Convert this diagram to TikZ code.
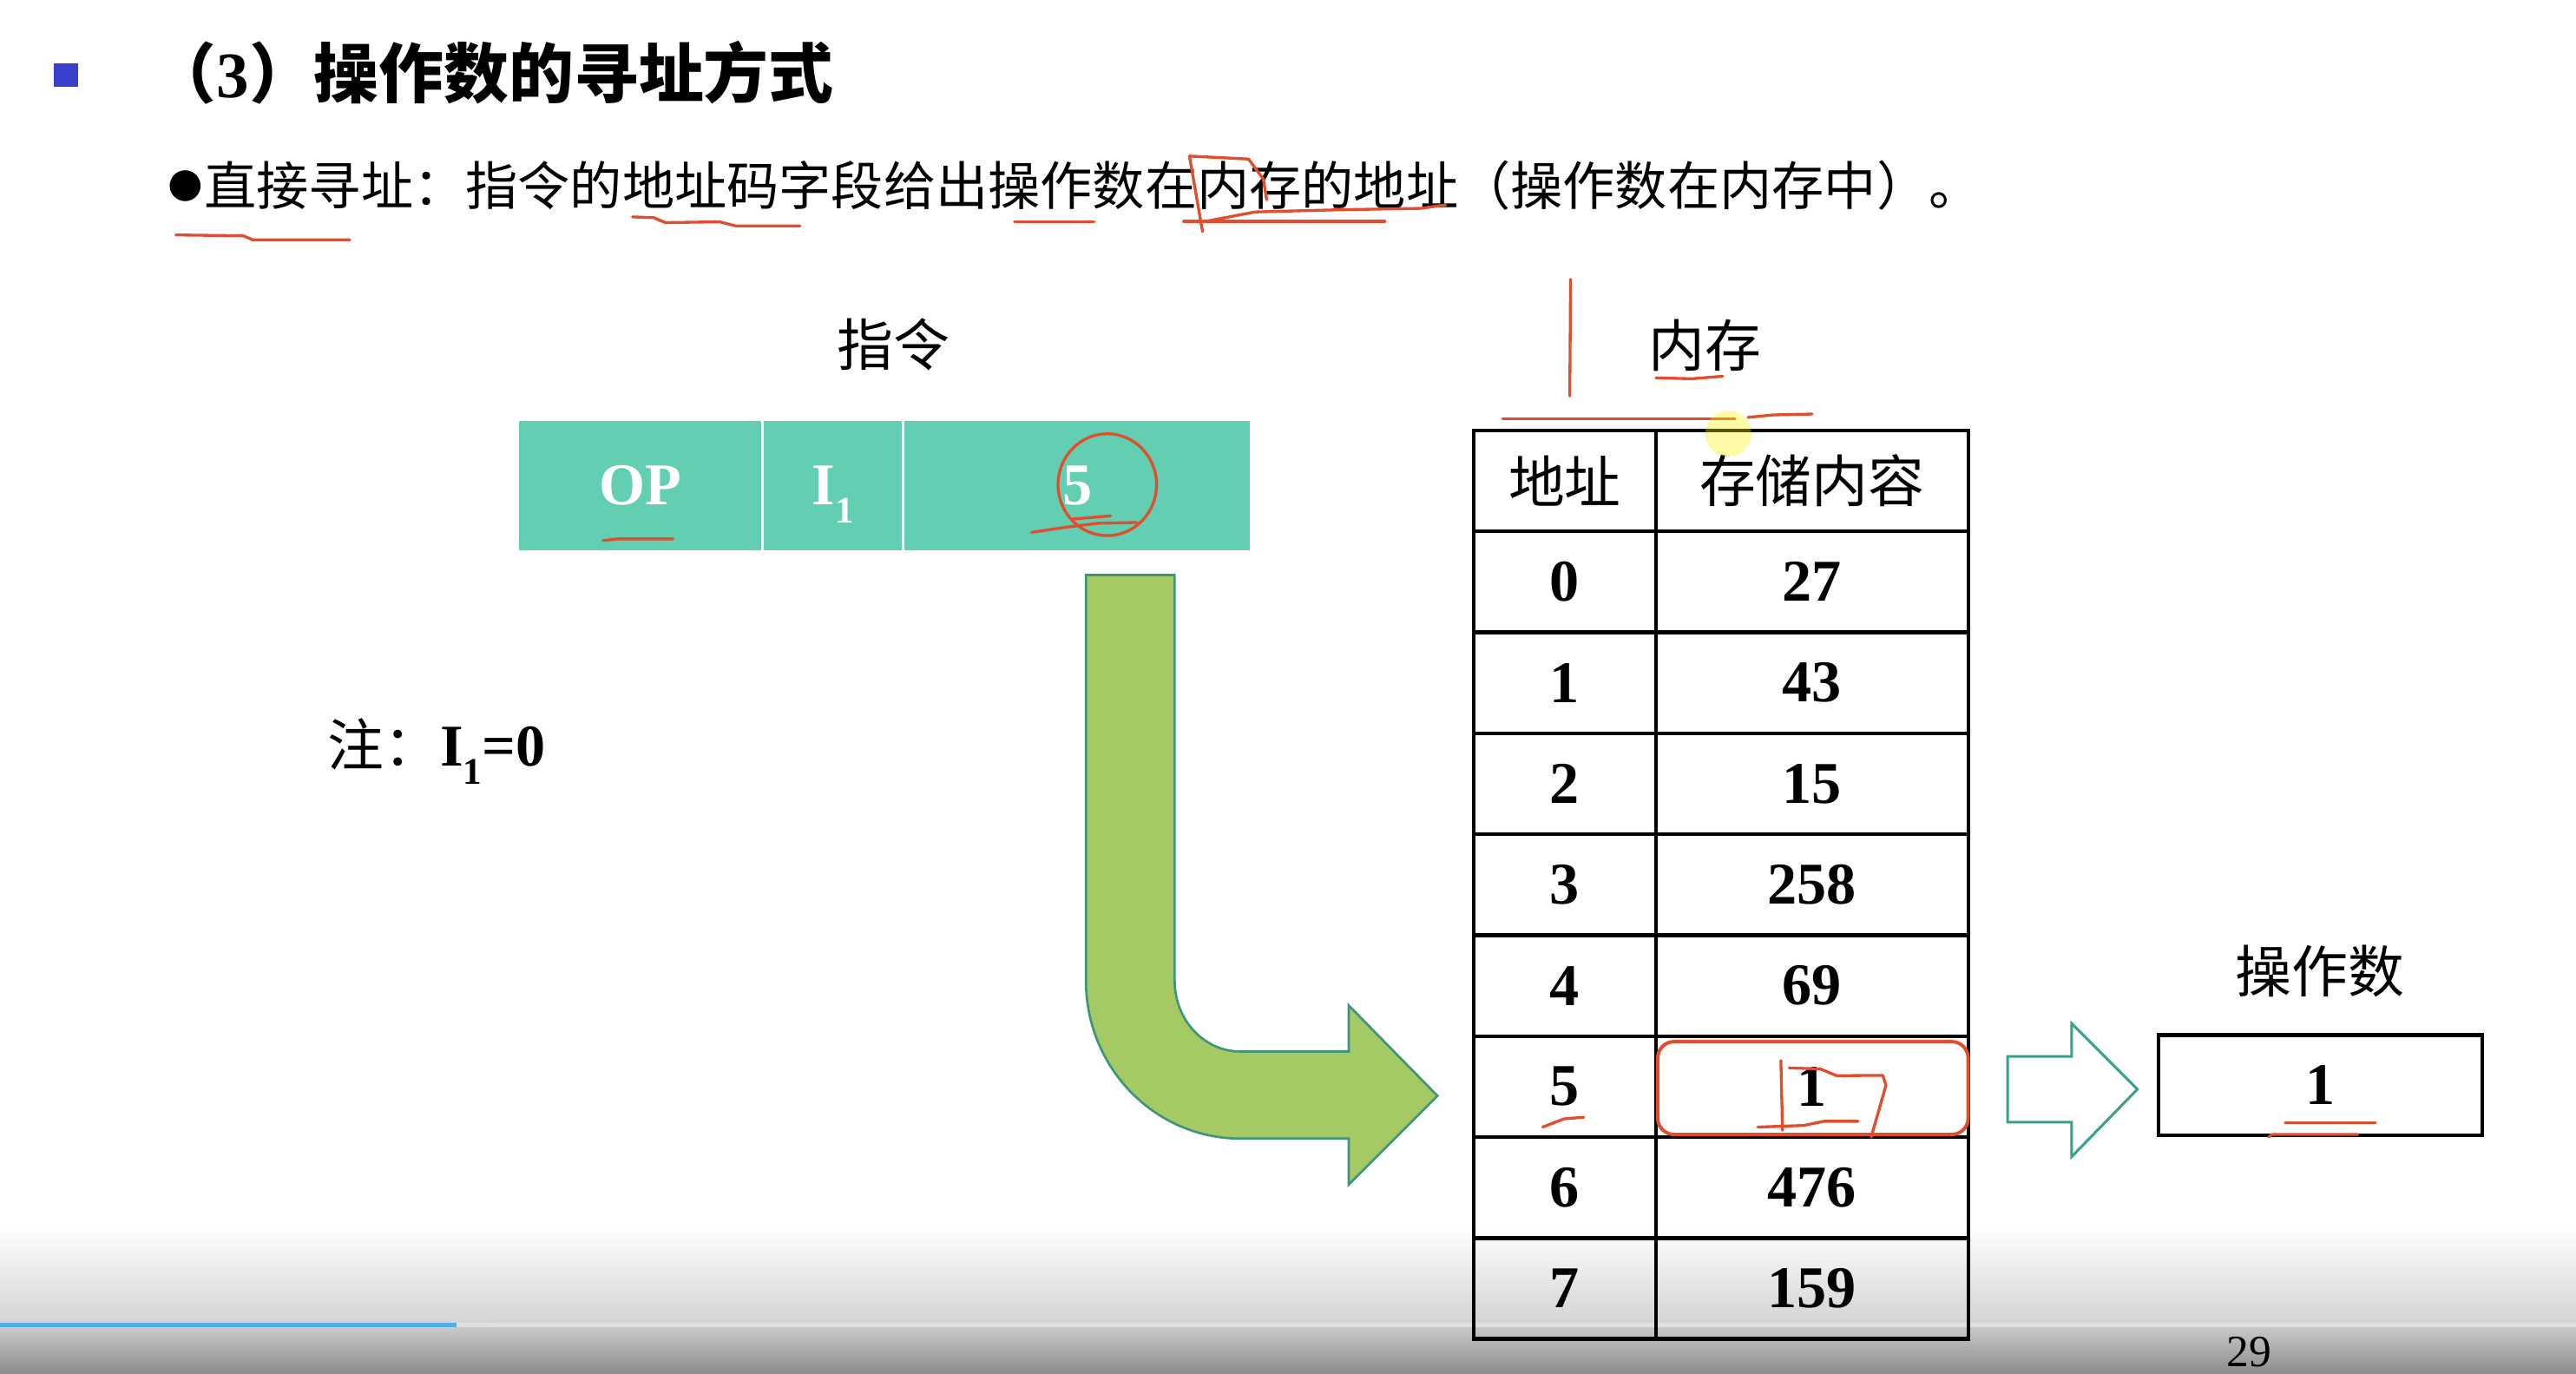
\documentclass[tikz,border=0pt]{standalone}
\usepackage{fontspec}
\setmainfont{Liberation Serif}
\newfontfamily\cjk{Noto Sans CJK SC}
\newfontfamily\dejavu{DejaVu Sans}
\definecolor{barteal}{RGB}{98,206,178}
\definecolor{arrowgreen}{RGB}{165,201,99}
\definecolor{arrowedge}{RGB}{62,150,122}
\definecolor{hollowteal}{RGB}{58,160,140}
\definecolor{penred}{RGB}{226,78,44}
\definecolor{bulletblue}{RGB}{58,63,205}
\definecolor{progblue}{RGB}{82,172,230}
\definecolor{uigrayA}{RGB}{212,212,212}
\definecolor{uigrayB}{RGB}{200,200,200}
\definecolor{uigrayC}{RGB}{140,140,140}
\begin{document}
\begin{tikzpicture}[x=0.2mm,y=-0.2mm,
  cnlabel/.style={font=\cjk\fontsize{19.5}{20}\selectfont, inner sep=0pt},
  numtxt/.style={font=\bfseries\fontsize{20.5}{21}\selectfont},
  tcell/.style={draw=black, line width=1.3pt, minimum height=12.288mm, inner sep=0pt, outer sep=0pt},
  barcell/.style={fill=barteal, minimum height=15.8mm, inner sep=0pt, outer sep=0pt, text=white, font=\bfseries\fontsize{20.5}{21}\selectfont},
  pen/.style={penred, line width=1pt, line cap=round, line join=round},
]
\useasboundingbox (0,0) rectangle (1568,836);
\fill[white] (0,0) rectangle (1568,836);

% bottom player band
\shade[top color=white, bottom color=uigrayA] (0,745) rectangle (1568,805);
\shade[top color=uigrayB, bottom color=uigrayC] (0,808) rectangle (1568,836);
\fill[uigrayA!70!white] (0,805) rectangle (1568,808);
\fill[progblue] (0,805) rectangle (278,808);
\fill[white!88!black] (278,805) rectangle (301,808);

% title
\fill[bulletblue] (33,38.5) rectangle (47.4,52.8);
\node[anchor=west, inner sep=0pt, font=\fontsize{22.5}{23}\selectfont] (title) at (92,44)
  {{\cjk\bfseries （}{\bfseries 3}{\cjk\bfseries ）操作数的寻址方式}};

% bullet line
\node[inner sep=0pt, font=\dejavu\fontsize{14}{14}\selectfont] (bul) at (113,113.5) {●};
\node[anchor=west, inner sep=0pt, font=\cjk\fontsize{18.1}{18}\selectfont] (line) at (124,113)
  {直接寻址：指令的地址码字段给出操作数在内存的地址（操作数在内存中）。};

% instruction
\node[cnlabel] (zl) at (544,209.5) {指令};
\node[barcell, minimum width=29.5mm] (op) at (389.75,295.5) {OP};
\node[barcell, minimum width=16.8mm] (i1) at (507,295.5) {I\smash{\raisebox{-0.3em}{\fontsize{13}{13}\selectfont 1}}};
\node[barcell, minimum width=42.1mm] (adr) at (655.75,295.5) {5};

% note
\node[anchor=west, inner sep=0pt] (note) at (199,453)
  {{\cjk\fontsize{19.5}{20}\selectfont 注：}{\bfseries\fontsize{20.5}{21}\selectfont I\smash{\raisebox{-0.3em}{\fontsize{13}{13}\selectfont 1}}=0}};

% memory table
\node[cnlabel] (nc) at (1038,210) {内存};
\node[tcell, minimum width=22.2mm, cnlabel] (h1) at (952.5,292.7) {地址};
\node[tcell, minimum width=38mm, cnlabel] (h2) at (1103,292.7) {存储内容};
\foreach \a/\c [count=\k from 0] in {0/27,1/43,2/15,3/258,4/69,5/1,6/476,7/159}{
  \pgfmathsetmacro\yy{262+61.44*(\k+1.5)}
  \node[tcell, minimum width=22.2mm, numtxt] (a\a) at (952.5,\yy) {\a};
  \node[tcell, minimum width=38mm, numtxt] (c\a) at (1103,\yy) {\c};
}

% green bent arrow
\draw[fill=arrowgreen, draw=arrowedge, line width=0.8pt, line join=miter]
  (661,350) -- (715,350) -- (715,597)
  .. controls (715,620.7) and (732.9,640) .. (755,640)
  -- (821,640) -- (821,612) -- (875,667) -- (821,721) -- (821,693) -- (755,693)
  .. controls (703.1,693) and (661,650) .. (661,597) -- cycle;

% hollow arrow
\draw[draw=hollowteal, line width=0.9pt, line join=miter]
  (1222,643) -- (1261,643) -- (1261,623) -- (1301,663) -- (1261,704) -- (1261,683) -- (1222,683) -- cycle;

% operand
\node[cnlabel] (czs) at (1412,591) {操作数};
\node[draw=black, line width=1.3pt, minimum width=39.4mm, minimum height=12.2mm, numtxt] (opd) at (1412.5,660.5) {1};

% page number
\node[font=\fontsize{15.5}{16}\selectfont, inner sep=0pt] (pg) at (1369,823) {29};

% ---- red pen annotations ----
\draw[pen] (107,143) -- (148,143.5) -- (154,146) -- (213,146);
\draw[pen] (385,132) -- (398,132.5) -- (405,135.5) -- (438,135) -- (448,137.5) -- (487,137.5);
\draw[pen] (617.5,135) -- (666,135);
\draw[pen] (732,141) -- (724,95) -- (760,96.8) -- (769,109) -- (771,121.5);
\draw[pen] (734,134.7) -- (764,129) -- (814,127.7) -- (865,126.8) -- (880,124.7);
\draw[pen] (720.5,134.7) -- (843,134.7);
\draw[pen] (956,170) -- (955.5,241);
\draw[pen] (1008,230) -- (1030,230.5) -- (1048.6,229);
\draw[pen] (914.6,255) -- (1056,255);
\draw[pen] (1064,254) -- (1080,252.5) -- (1103,252);
\fill[yellow, opacity=0.35] (1052,264) circle[radius=14];
\draw[pen] (674,295) ellipse[x radius=30, y radius=31];
\draw[pen] (628,324) -- (648,321) -- (668,318.5) -- (692,318);
\draw[pen] (652,316) -- (676,314);
\draw[pen] (367,329) -- (376,328) -- (409.6,328);
\draw[pen, line width=1.2pt, rounded corners=2mm] (1009,634) rectangle (1198,690.5);
\draw[pen] (1084,645.5) -- (1085,688);
\draw[pen] (1089,650) -- (1108,650.6) -- (1118,654.7) -- (1146,654.5) -- (1148,660.5) -- (1139,692);
\draw[pen] (1070,686) -- (1098,685) -- (1110,682.5) -- (1131,682.5);
\draw[pen] (939,686) -- (952,681) -- (964,680);
\draw[pen] (1391,683.5) -- (1446,683.5);
\draw[pen] (1381,692) -- (1383,690.5) -- (1435,690.5);
\end{tikzpicture}
\end{document}
